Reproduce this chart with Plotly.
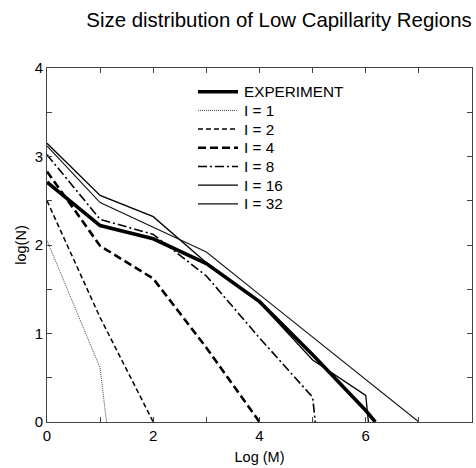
import plotly.graph_objects as go

# ---- data ----
exp_x = [0, 1, 2, 3, 4, 5, 6, 6.18]
exp_y = [2.71, 2.22, 2.07, 1.79, 1.36, 0.76, 0.13, 0.0]

i1_x = [0, 1, 1.12]
i1_y = [2.05, 0.61, 0.0]

i2_x = [0, 1, 2]
i2_y = [2.5, 1.18, 0.0]

i4_x = [0, 1, 2, 3, 4]
i4_y = [2.83, 1.99, 1.62, 0.84, 0.0]

i8_x = [0, 1, 2, 3, 4, 5, 5.05]
i8_y = [3.02, 2.29, 2.12, 1.65, 0.95, 0.28, 0.0]

i16_x = [0, 1, 2, 3, 4, 5, 6, 6.05]
i16_y = [3.15, 2.56, 2.32, 1.8, 1.35, 0.7, 0.3, 0.0]

i32_x = [0, 1, 2, 3, 4, 5, 6, 7]
i32_y = [3.12, 2.48, 2.2, 1.92, 1.44, 0.96, 0.48, 0.0]

labels = ["EXPERIMENT", "I = 1", "I = 2", "I = 4", "I = 8", "I = 16", "I = 32"]

x_ticks = [0, 1, 2, 3, 4, 5, 6, 7, 8]
x_ticktext = ["0", "", "2", "", "4", "", "6", "", "8"]
y_ticks = [0, 0.5, 1, 1.5, 2, 2.5, 3, 3.5, 4]
y_ticktext = ["0", "", "1", "", "2", "", "3", "", "4"]

# ---- styles ----
styles = [
    dict(width=3.6, dash="solid", color="#000"),
    dict(width=1.0, dash="1px,1px", color="#444"),
    dict(width=1.5, dash="5px,3px", color="#000"),
    dict(width=2.6, dash="8px,4px", color="#000"),
    dict(width=1.6, dash="9px,3px,2px,3px", color="#000"),
    dict(width=1.3, dash="solid", color="#000"),
    dict(width=1.1, dash="solid", color="#111"),
]
series = [(exp_x, exp_y), (i1_x, i1_y), (i2_x, i2_y), (i4_x, i4_y),
          (i8_x, i8_y), (i16_x, i16_y), (i32_x, i32_y)]

FONT = "Liberation Sans, Arial, Helvetica, sans-serif"

fig = go.Figure()
for (xs, ys), lab, st in zip(series, labels, styles):
    fig.add_trace(go.Scatter(x=xs, y=ys, mode="lines", name=lab,
                             line=st, showlegend=False))

# ---- manual legend (paper coordinates) ----
W, H = 476, 468
ml, mr, mt, mb = 47, 4, 68, 46
pw, ph = W - ml - mr, H - mt - mb

def px_to_paper_x(px):
    return (px - ml) / pw

def px_to_paper_y(py):
    return (H - mb - py) / ph

shapes = []
annotations = []
for i, (lab, st) in enumerate(zip(labels, styles)):
    py = 91.7 + 18.7 * i
    yy = px_to_paper_y(py)
    shapes.append(dict(type="line", xref="paper", yref="paper",
                       x0=px_to_paper_x(198), x1=px_to_paper_x(238),
                       y0=yy, y1=yy, line=st))
    annotations.append(dict(xref="paper", yref="paper",
                            x=px_to_paper_x(242), y=yy, text=lab,
                            showarrow=False, xanchor="left", yanchor="middle",
                            font=dict(family=FONT, size=15.3, color="#000")))

fig.update_layout(
    width=W, height=H,
    margin=dict(l=ml, r=mr, t=mt, b=mb, pad=0),
    paper_bgcolor="white", plot_bgcolor="white",
    font=dict(family=FONT, size=14, color="#000"),
    title=dict(text="Size distribution of Low Capillarity Regions",
               x=279 / W, xref="container", xanchor="center",
               y=0.958, yref="container", yanchor="middle",
               font=dict(family=FONT, size=20.4, color="#000")),
    shapes=shapes,
    annotations=annotations,
    showlegend=False,
)
fig.update_xaxes(range=[0, 8], tickvals=x_ticks, ticktext=x_ticktext,
                 ticks="inside", ticklen=5, tickcolor="#444",
                 showline=True, linecolor="#444", linewidth=1, mirror="ticks",
                 showgrid=False, zeroline=False,
                 title=dict(text="Log (M)", standoff=8,
                            font=dict(family=FONT, size=14.5)),
                 tickfont=dict(family=FONT, size=15))
fig.update_yaxes(range=[0, 4], tickvals=y_ticks, ticktext=y_ticktext,
                 ticks="inside", ticklen=5, tickcolor="#444",
                 showline=True, linecolor="#444", linewidth=1, mirror="ticks",
                 showgrid=False, zeroline=False,
                 title=dict(text="log(N)", standoff=4,
                            font=dict(family=FONT, size=14.5)),
                 tickfont=dict(family=FONT, size=15))

fig.write_html("out.html")
